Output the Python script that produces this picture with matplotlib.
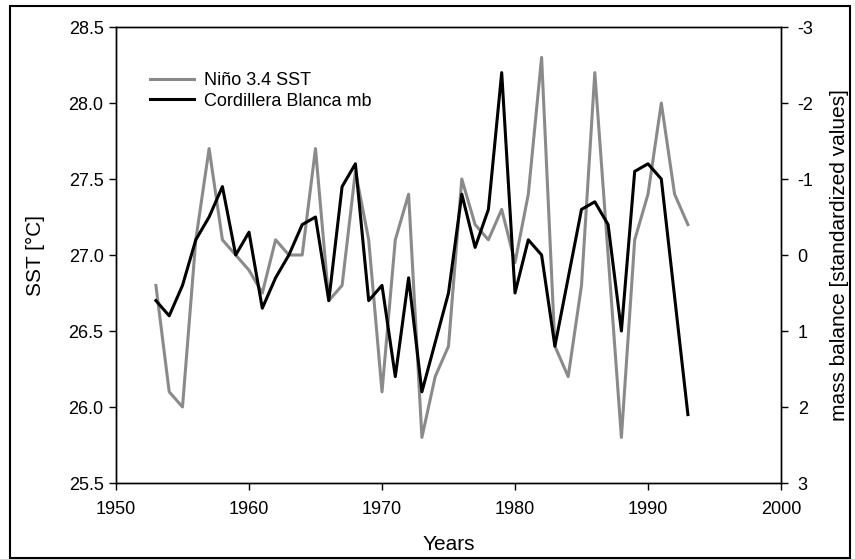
import matplotlib
matplotlib.use("Agg")
import matplotlib.pyplot as plt
from matplotlib.patches import Rectangle

plt.rcParams['font.family'] = ['Liberation Sans', 'DejaVu Sans']

years = list(range(1953, 1994))
sst = [26.8, 26.1, 26.0, 27.1, 27.7, 27.1, 27.0, 26.9, 26.75, 27.1,
       27.0, 27.0, 27.7, 26.7, 26.8, 27.55, 27.1, 26.1, 27.1, 27.4,
       25.8, 26.2, 26.4, 27.5, 27.2, 27.1, 27.3, 26.95, 27.4, 28.3,
       26.4, 26.2, 26.8, 28.2, 27.0, 25.8, 27.1, 27.4, 28.0, 27.4, 27.2]
mb = [0.6, 0.8, 0.4, -0.2, -0.5, -0.9, 0.0, -0.3, 0.7, 0.3,
      0.0, -0.4, -0.5, 0.6, -0.9, -1.2, 0.6, 0.4, 1.6, 0.3,
      1.8, 1.15, 0.5, -0.8, -0.1, -0.6, -2.4, 0.5, -0.2, 0.0,
      1.2, 0.3, -0.6, -0.7, -0.4, 1.0, -1.1, -1.2, -1.0, 0.55, 2.1]

x_ticks = [1950, 1960, 1970, 1980, 1990, 2000]
sst_ticks = [25.5, 26.0, 26.5, 27.0, 27.5, 28.0, 28.5]
mb_ticks = [-3, -2, -1, 0, 1, 2, 3]

fig = plt.figure(figsize=(8.55, 5.59), dpi=100)
fig.patches.append(Rectangle((10/855, 0.002), 840/855, 1 - 0.002 - 6/559,
                             transform=fig.transFigure, fill=False,
                             edgecolor='black', linewidth=1.5))
ax = fig.add_axes([116/855, 1 - 483/559, (781 - 116)/855, (483 - 27)/559])
ax2 = ax.twinx()

l1, = ax.plot(years, sst, color='#8a8a8a', linewidth=2.2, label='Niño 3.4 SST')
l2, = ax2.plot(years, mb, color='black', linewidth=2.2, label='Cordillera Blanca mb')

ax.set_xlim(1950, 2000)
ax.set_ylim(25.5, 28.5)
ax2.set_ylim(3, -3)
ax.set_xticks(x_ticks)
ax.set_yticks(sst_ticks)
ax.set_yticklabels([f"{v:.1f}" for v in sst_ticks])
ax2.set_yticks(mb_ticks)
ax2.set_yticklabels([str(v) for v in mb_ticks])

for a in (ax, ax2):
    a.tick_params(direction='out', length=5, width=1, labelsize=13, pad=4)
    for s in a.spines.values():
        s.set_linewidth(1)
ax.tick_params(axis='x', pad=8)
ax2.tick_params(axis='y', pad=7)

ax.set_xlabel('Years', fontsize=15, labelpad=12)
ax.set_ylabel('SST [°C]', fontsize=15, labelpad=17)
ax2.set_ylabel('mass balance [standardized values]', fontsize=15, labelpad=12)

ax.legend(handles=[l1, l2], loc='upper left', bbox_to_anchor=(0.035, 0.925),
          frameon=False, fontsize=13, handlelength=2.45, handletextpad=0.55,
          labelspacing=0.2, borderaxespad=0.2)

fig.savefig('out.png', dpi=100)
